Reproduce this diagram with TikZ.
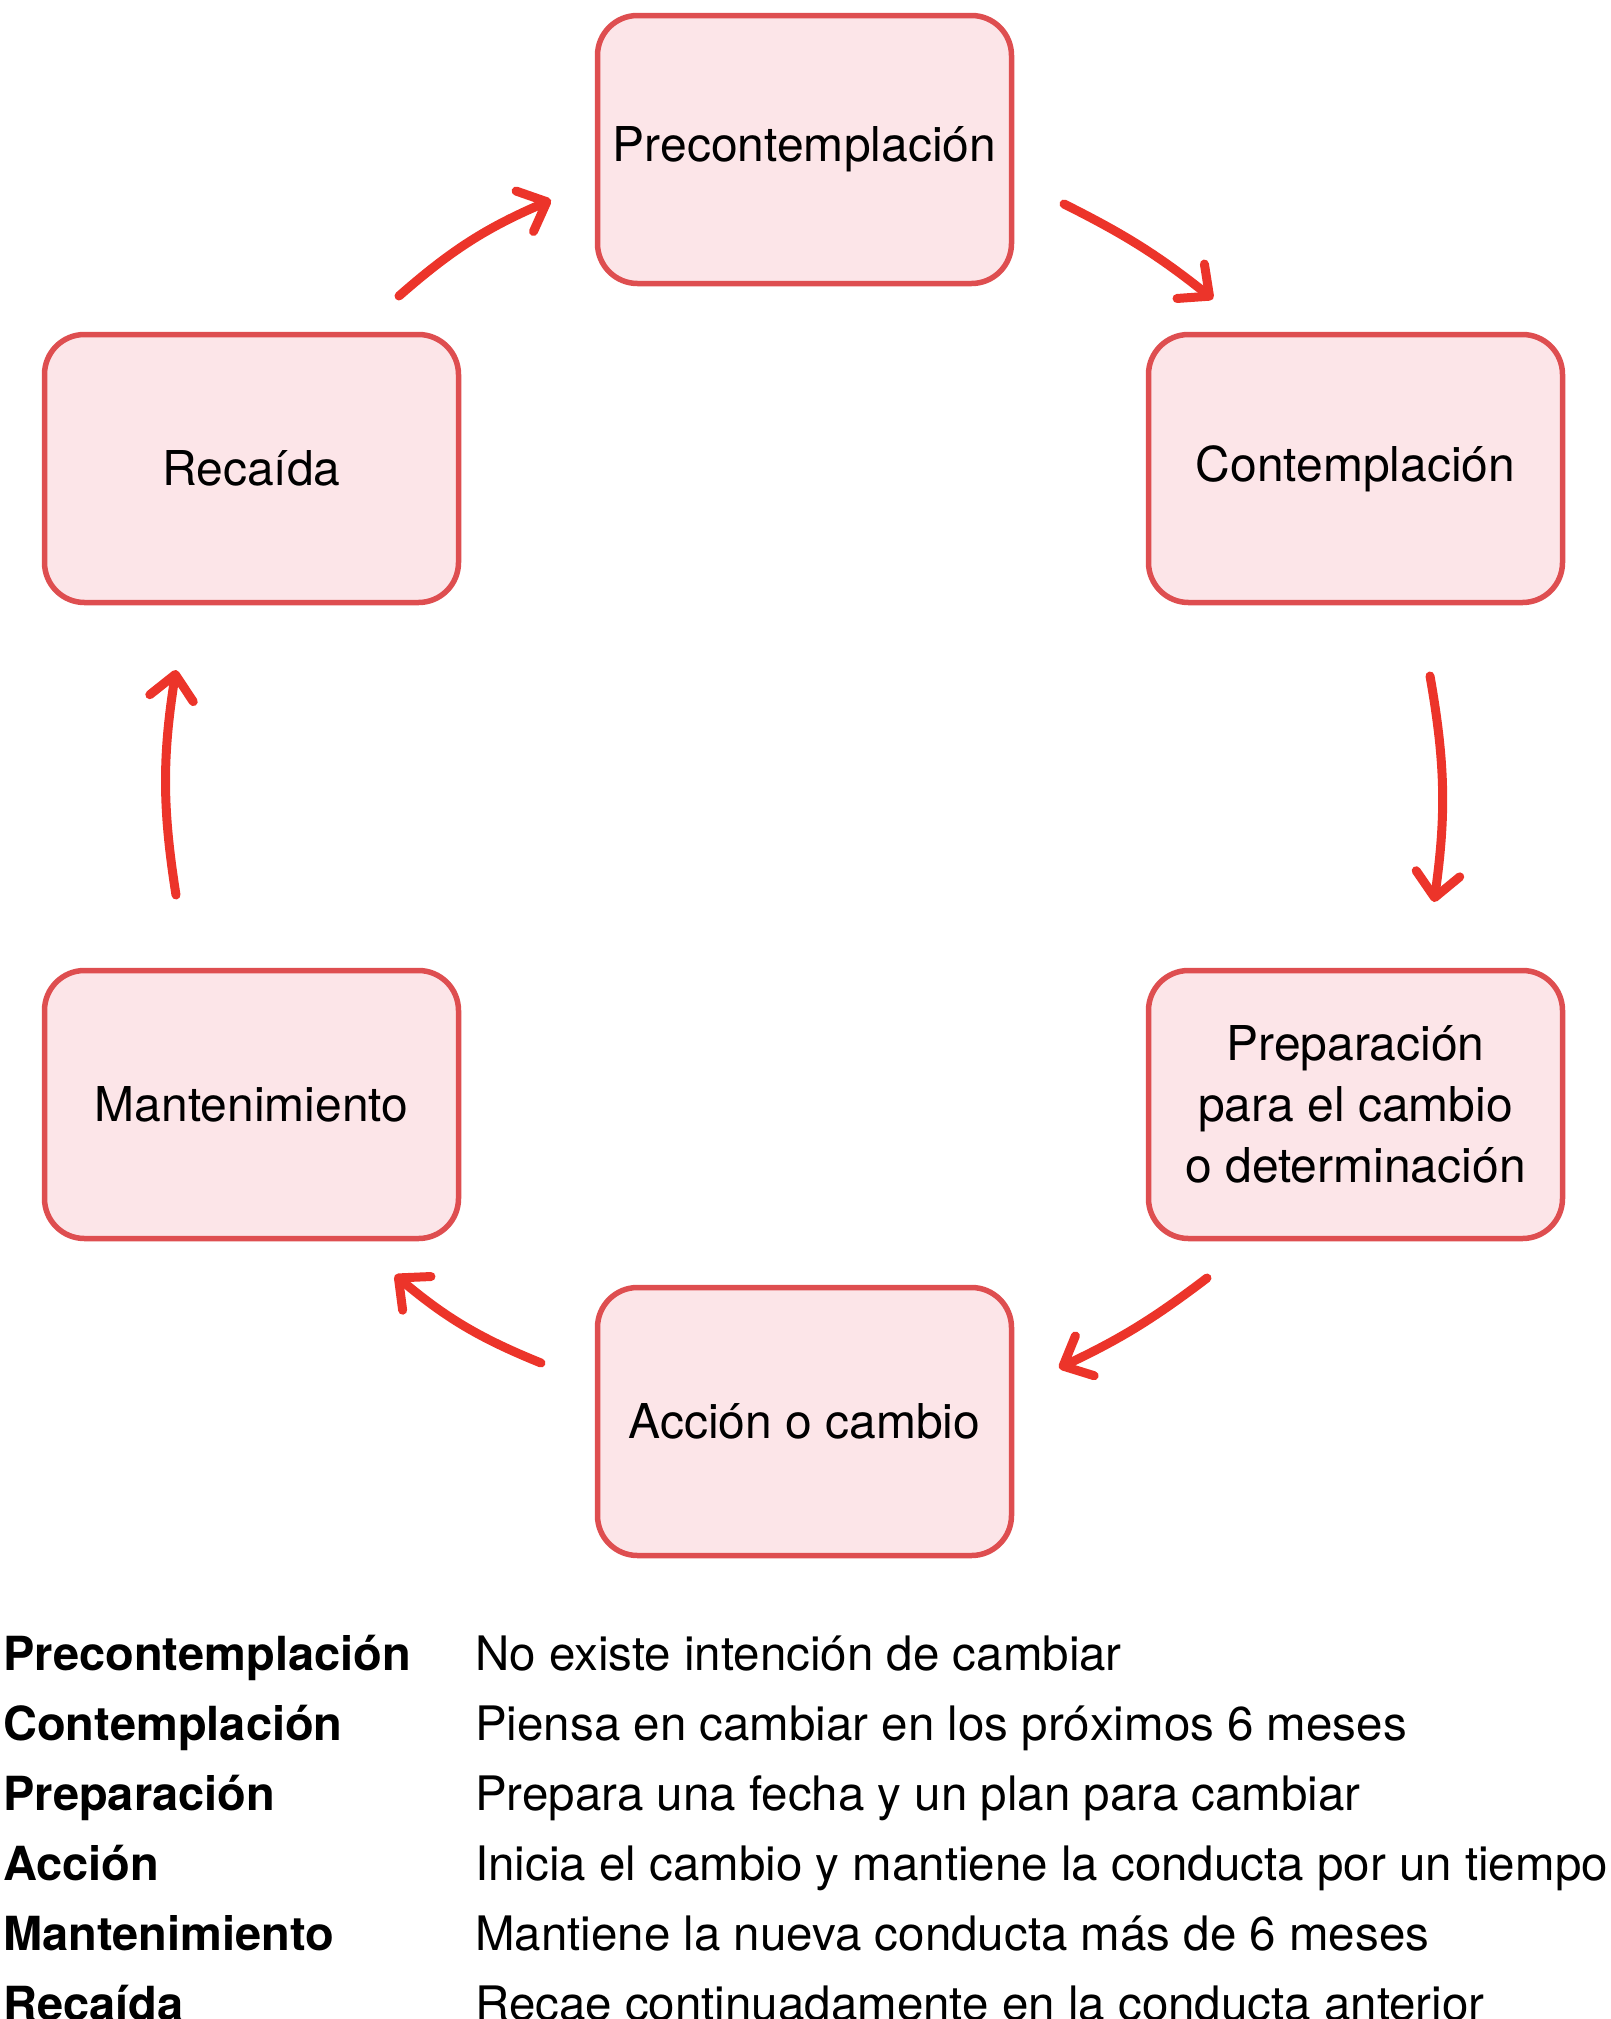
\documentclass[tikz,border=0pt]{standalone}
\usepackage{fontspec}
\setmainfont{TeX Gyre Heros}
\usetikzlibrary{arrows.meta}
\definecolor{boxred}{RGB}{222,78,80}
\definecolor{boxpink}{RGB}{252,229,232}
\definecolor{arrred}{RGB}{236,52,42}

\begin{document}
\begin{tikzpicture}[x=1pt,y=-1pt,
  stage/.style={draw=boxred,fill=boxpink,line width=5.5pt,rounded corners=40pt,
    minimum width=414pt,minimum height=268pt,align=center,
    font=\fontsize{48}{61}\selectfont},
  cyc/.style={draw=arrred,line width=9pt,line cap=round,
    -{Straight Barb[length=24pt,width=44pt,round]}},
  term/.style={anchor=base west,inner sep=0pt,font=\fontsize{47}{56}\selectfont\bfseries},
  desc/.style={anchor=base west,inner sep=0pt,font=\fontsize{47.5}{56}\selectfont}]
\useasboundingbox (0,0) rectangle (1610,2019);

% stages of the cycle
\node[stage] (pre) at (804.5,149.5) {Precontemplación};
\node[stage] (con) at (1355.5,468.5) {Contemplación};
\node[stage] (prep) at (1355.5,1104.5) {Preparación\\para el cambio\\o determinación};
\node[stage] (acc) at (804.5,1421.5) {Acción o cambio};
\node[stage] (man) at (251.5,1104.5) {Mantenimiento};
\node[stage] (rec) at (251.5,468.5) {Recaída};

% arrow ends
\coordinate (a1) at (399,296);  \coordinate (b1) at (551,200);
\coordinate (a2) at (1064,204); \coordinate (b2) at (1213,299);
\coordinate (a3) at (1430,676); \coordinate (b3) at (1434,902);
\coordinate (a4) at (1207,1278); \coordinate (b4) at (1059,1368);
\coordinate (a5) at (541,1363); \coordinate (b5) at (395,1275);
\coordinate (a6) at (176,895);  \coordinate (b6) at (176,670);

\draw[cyc] (a1) to[bend left=9] (b1);
\draw[cyc] (a2) to[bend left=6] (b2);
\draw[cyc] (a3) to[bend left=9] (b3);
\draw[cyc] (a4) to[bend left=6] (b4);
\draw[cyc] (a5) to[bend left=9] (b5);
\draw[cyc] (a6) to[bend left=9] (b6);

% legend
\node[term] (t1) at (3,1670) {Precontemplación};
\node[term] (t2) at (3,1740) {Contemplación};
\node[term] (t3) at (3,1810) {Preparación};
\node[term] (t4) at (3,1880) {Acción};
\node[term] (t5) at (3,1950) {Mantenimiento};
\node[term] (t6) at (3,2020) {Recaída};
\node[desc] (d1) at (475,1670) {No existe intención de cambiar};
\node[desc] (d2) at (475,1740) {Piensa en cambiar en los próximos 6 meses};
\node[desc] (d3) at (475,1810) {Prepara una fecha y un plan para cambiar};
\node[desc] (d4) at (475,1880) {Inicia el cambio y mantiene la conducta por un tiempo};
\node[desc] (d5) at (475,1950) {Mantiene la nueva conducta más de 6 meses};
\node[desc] (d6) at (475,2020) {Recae continuadamente en la conducta anterior};
\end{tikzpicture}
\end{document}
